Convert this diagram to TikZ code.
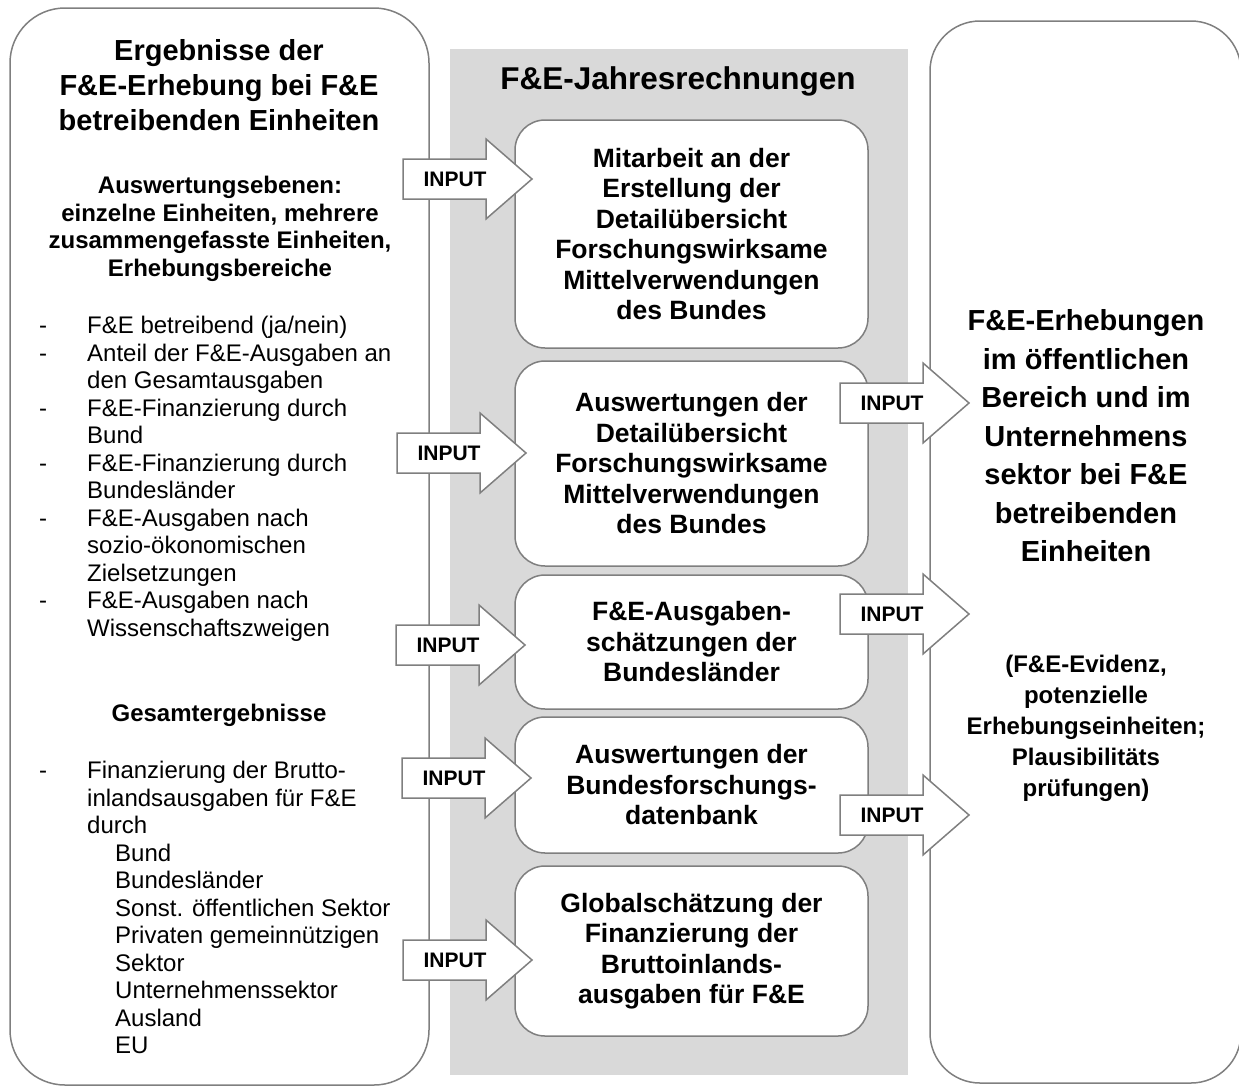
\documentclass[tikz,border=0pt]{standalone}
\usepackage{fontspec}
\setmainfont{Liberation Sans}
\usepackage{xcolor}
\definecolor{colorLine}{HTML}{7F7F7F}
\definecolor{colorBand}{HTML}{D9D9D9}
\usetikzlibrary{positioning}
\newcommand{\itm}{\makebox[48pt][l]{-}}
\newcommand{\ind}{\hspace*{48pt}}
\newcommand{\indd}{\hspace*{76pt}}
\tikzset{
  bigbox/.style={draw=colorLine, line width=1.5pt, rounded corners=55pt, inner sep=0pt},
  midbox/.style={draw=colorLine, line width=1.5pt, fill=white, rounded corners=30pt, minimum width=353pt, inner sep=0pt, align=center, font=\bfseries\fontsize{26.5}{30.5}\selectfont},
  inarrow/.style={draw=colorLine, line width=1.5pt, fill=white},
  inlabel/.style={inner sep=0pt, font=\bfseries\fontsize{21}{24}\selectfont},
  listtext/.style={inner sep=0pt, align=left, anchor=north west, font=\fontsize{24}{27.5}\selectfont},
}

\begin{document}
\begin{tikzpicture}[x=1pt, y=-1pt, node distance=11.5pt]
\useasboundingbox (0,0) rectangle (1239,1090);
\clip (0,0) rectangle (1239,1090);
\node[bigbox, minimum width=419pt, minimum height=1077pt] (ergebnisse) at (219.5,546.5) {};
\node[bigbox, rounded corners=50pt, minimum width=311pt, minimum height=1062pt] (erhebungen) at (1085.5,552) {};
\node[fill=colorBand, inner sep=0pt, minimum width=458pt, minimum height=1026pt] (band) at (679,562) {};

\node[align=center, font=\bfseries\fontsize{29}{35}\selectfont] (titel) at (219,85) {Ergebnisse der\\F\&E-Erhebung bei F\&E\\betreibenden Einheiten};
\node[align=center, font=\bfseries\fontsize{24}{27.5}\selectfont] (ebenen) at (220,229) {Auswertungsebenen:\\einzelne Einheiten, mehrere\\zusammengefasste Einheiten,\\Erhebungsbereiche};
\node[listtext] (liste) at (39,316) {\itm F\&E betreibend (ja/nein)\\\itm Anteil der F\&E-Ausgaben an\\\ind den Gesamtausgaben\\\itm F\&E-Finanzierung durch\\\ind Bund\\\itm F\&E-Finanzierung durch\\\ind Bundesländer\\\itm F\&E-Ausgaben nach\\\ind sozio-ökonomischen\\\ind Zielsetzungen\\\itm F\&E-Ausgaben nach\\\ind Wissenschaftszweigen};
\node[font=\bfseries\fontsize{24}{27.5}\selectfont] (gesamt) at (219,715) {Gesamtergebnisse};
\node[listtext] (gesamtliste) at (39,761) {\itm Finanzierung der Brutto-\\\ind inlandsausgaben für F\&E\\\ind durch\\\indd Bund\\\indd Bundesländer\\\indd Sonst. öffentlichen Sektor\\\indd Privaten gemeinnützigen\\\indd Sektor\\\indd Unternehmenssektor\\\indd Ausland\\\indd EU};

\node[font=\bfseries\fontsize{31.5}{36}\selectfont] (jahres) at (678,81) {F\&E-Jahresrechnungen};
\node[midbox, minimum height=228pt] (mitarbeit) at (691.5,234) {Mitarbeit an der\\Erstellung der\\Detailübersicht\\Forschungswirksame\\Mittelverwendungen\\des Bundes};
\node[midbox, minimum height=205pt, below=of mitarbeit] (detail) {Auswertungen der\\Detailübersicht\\Forschungswirksame\\Mittelverwendungen\\des Bundes};
\node[midbox, minimum height=134pt, below=7.5pt of detail] (laender) {F\&E-Ausgaben-\\schätzungen der\\Bundesländer};
\node[midbox, minimum height=136pt, below=6.5pt of laender] (datenbank) {Auswertungen der\\Bundesforschungs-\\datenbank};
\node[midbox, minimum height=170pt, below=of datenbank] (global) {Globalschätzung der\\Finanzierung der\\Bruttoinlands-\\ausgaben für F\&E};

\node[align=center, font=\bfseries\fontsize{29}{38.5}\selectfont] (oeffentlich) at (1086,436) {F\&E-Erhebungen\\im öffentlichen\\Bereich und im\\Unternehmens\\sektor bei F\&E\\betreibenden\\Einheiten};
\node[align=center, font=\bfseries\fontsize{24}{31}\selectfont] (evidenz) at (1086,728) {(F\&E-Evidenz,\\potenzielle\\Erhebungseinheiten;\\Plausibilitäts\\prüfungen)};

\foreach \tx/\ty [count=\i] in {403/179, 397/453, 396/645, 402/778, 403/960, 840/403, 840/614, 840/815} {
  \draw[inarrow] (\tx,\ty) ++(0,-20) -- ++(83,0) -- ++(0,-20) -- ++(46,40) -- ++(-46,40) -- ++(0,-20) -- ++(-83,0) -- cycle;
  \node[inlabel] (input\i) at (\tx+52,\ty) {INPUT};
}
\end{tikzpicture}
\end{document}
